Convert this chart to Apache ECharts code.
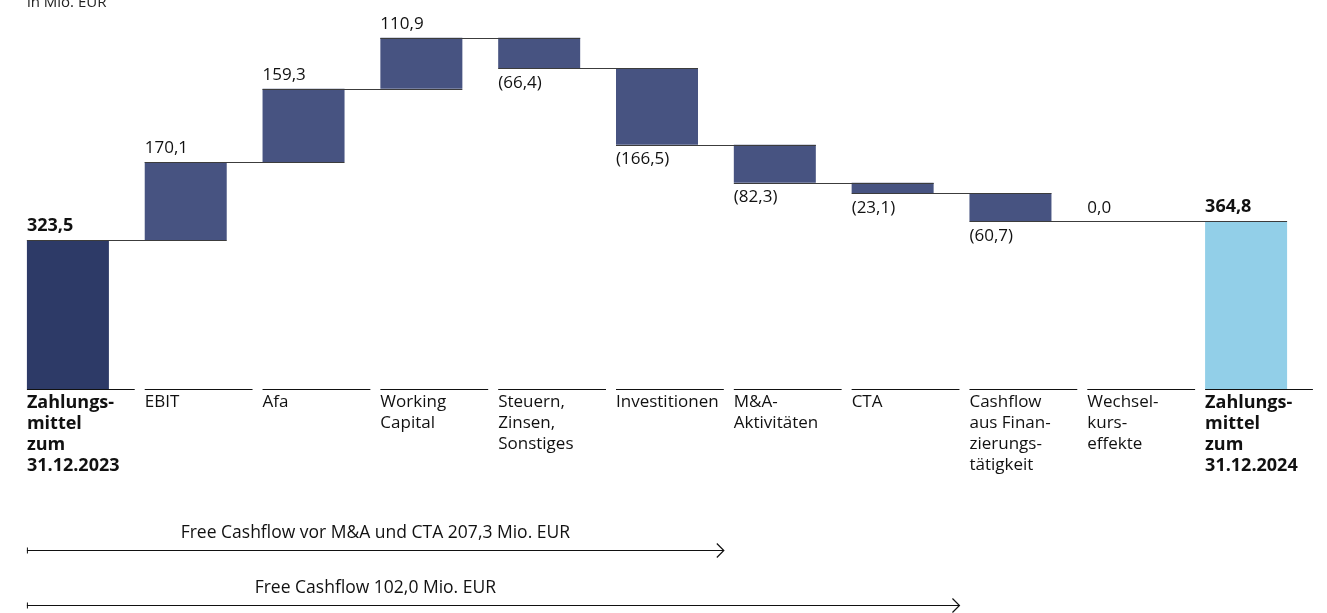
<!DOCTYPE html>
<html><head><meta charset="utf-8">
<script src="https://cdn.jsdelivr.net/npm/echarts@6/dist/echarts.min.js"></script>
<style>html,body{margin:0;padding:0;background:#fff}#c{width:1327px;height:613px}</style>
</head><body><div id="c"></div>
<script>
const categories = ['Zahlungs-\nmittel\nzum\n31.12.2023','EBIT','Afa','Working\nCapital','Steuern,\nZinsen,\nSonstiges','Investitionen','M&A-\nAktivitäten','CTA','Cashflow\naus Finan-\nzierungs-\ntätigkeit','Wechsel-\nkurs-\neffekte','Zahlungs-\nmittel\nzum\n31.12.2024'];
const values = [323.5, 170.1, 159.3, 110.9, -66.4, -166.5, -82.3, -23.1, -60.7, 0.0, 364.8];
const kinds = ['total','delta','delta','delta','delta','delta','delta','delta','delta','delta','total'];
const unitLabel = 'in Mio. EUR';
const arrowTexts = ['Free Cashflow vor M&A und CTA 207,3 Mio. EUR','Free Cashflow 102,0 Mio. EUR'];
const arrowEnds = [5, 7]; // category index where each arrow ends

const FONT = '"Open Sans", sans-serif';
const COL_START = '#2d3a67', COL_DELTA = '#475381', COL_END = '#92cfe8';
const BARW = 82;

function fmt(v){ const s = Math.abs(v).toFixed(1).replace('.', ','); return v < 0 ? '(' + s + ')' : s; }

let run = 0; const items = []; const levels = [];
values.forEach((v, i) => {
  let low, high;
  if (kinds[i] === 'total') { low = 0; high = v; run = v; }
  else { const prev = run; run = prev + v; low = Math.min(prev, run); high = Math.max(prev, run); }
  levels.push(run);
  items.push([i, low, high, v]);
});

const chart = echarts.init(document.getElementById('c'), null, {renderer: 'canvas'});

function renderItem(params, api) {
  const i = api.value(0), low = api.value(1), high = api.value(2), v = api.value(3);
  const pTop = api.coord([i, high]), pBot = api.coord([i, low]), p0 = api.coord([i, 0]);
  const band = api.size([1, 0])[0];
  const left = pTop[0] - BARW / 2;
  const isTotal = kinds[i] === 'total';
  const children = [];
  const color = i === 0 ? COL_START : (i === values.length - 1 ? COL_END : COL_DELTA);
  if (high > low) {
    children.push({type: 'rect', shape: {x: left, y: pTop[1], width: BARW, height: pBot[1] - pTop[1]}, style: {fill: color}});
  }
  children.push({type: 'line', shape: {x1: left, y1: p0[1] + 0.5, x2: left + band - 10, y2: p0[1] + 0.5}, style: {stroke: '#111', lineWidth: 1.2}});
  if (i < values.length - 1) {
    const ly = Math.round(api.coord([i, levels[i]])[1]) + 0.5;
    children.push({type: 'line', shape: {x1: left, y1: ly, x2: left + band + BARW, y2: ly}, style: {stroke: '#3c3c3c', lineWidth: 1}, z2: 5});
  }
  const above = v >= 0;
  children.push({type: 'text', style: {
    text: fmt(v), x: left, y: above ? pTop[1] - 5 : pBot[1] + 6,
    verticalAlign: above ? 'bottom' : 'top', align: 'left',
    font: isTotal ? 'bold 18px ' + FONT : '17px ' + FONT, fill: '#111'}});
  children.push({type: 'text', style: {
    text: categories[i], x: left, y: p0[1] + 3, verticalAlign: 'top', align: 'left',
    font: isTotal ? 'bold 18px ' + FONT : '17px ' + FONT, lineHeight: 21, fill: '#111'}});
  return {type: 'group', children};
}

chart.setOption({
  animation: false,
  grid: {left: 9, width: 1296, top: 21, height: 368},
  xAxis: {type: 'category', data: categories, show: false, boundaryGap: true},
  yAxis: {type: 'value', min: 0, max: 800, show: false},
  series: [{type: 'custom', renderItem, data: items, clip: false}]
});

const band = chart.convertToPixel({xAxisIndex: 0}, 1) - chart.convertToPixel({xAxisIndex: 0}, 0);
const x0 = chart.convertToPixel({xAxisIndex: 0}, 0) - BARW / 2;
const graphics = [{type: 'text', left: x0, top: -5, style: {text: unitLabel, font: '15px ' + FONT, fill: '#222'}}];
const rowY = [550, 605];
const firstEnd = chart.convertToPixel({xAxisIndex: 0}, arrowEnds[0]) - BARW / 2 + band - 10;
arrowTexts.forEach((t, k) => {
  const xe = chart.convertToPixel({xAxisIndex: 0}, arrowEnds[k]) - BARW / 2 + band - 10;
  const y = rowY[k] + 0.5;
  graphics.push({type: 'line', shape: {x1: x0, y1: y, x2: xe, y2: y}, style: {stroke: '#111', lineWidth: 1.2}});
  graphics.push({type: 'line', shape: {x1: x0 + 0.5, y1: y - 3, x2: x0 + 0.5, y2: y + 3}, style: {stroke: '#111', lineWidth: 1}});
  graphics.push({type: 'polyline', shape: {points: [[xe - 7, y - 7], [xe, y], [xe - 7, y + 7]]}, style: {stroke: '#111', lineWidth: 1.2, fill: null}});
  graphics.push({type: 'text', x: (x0 + firstEnd) / 2, y: rowY[k] - 17, style: {text: t, font: '17.5px ' + FONT, fill: '#111', align: 'center', verticalAlign: 'middle'}});
});
chart.setOption({graphic: graphics});
</script></body></html>
